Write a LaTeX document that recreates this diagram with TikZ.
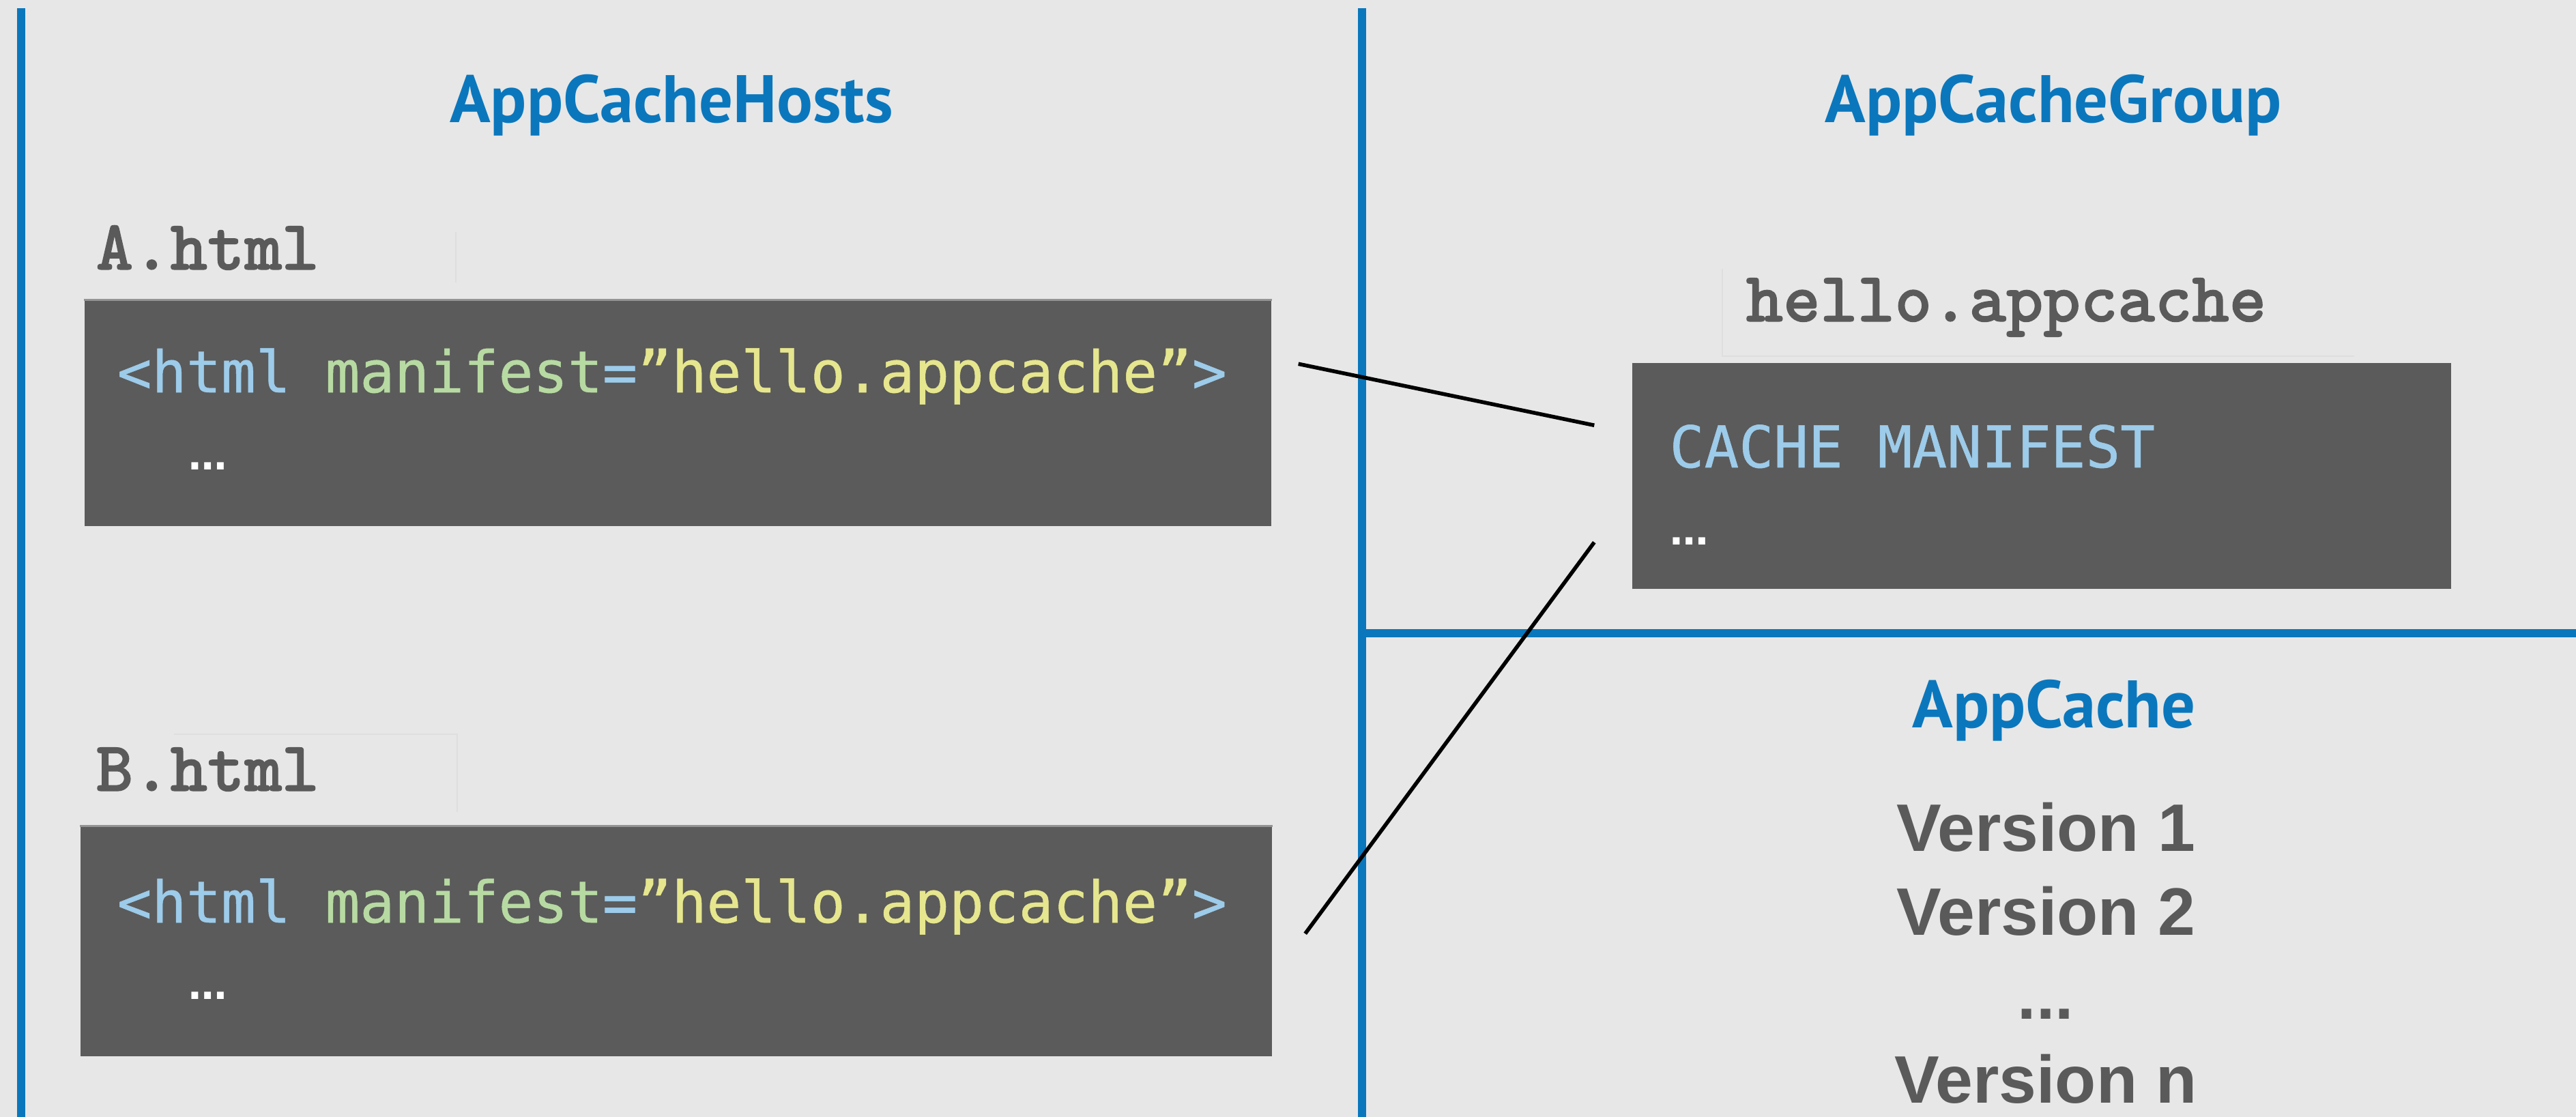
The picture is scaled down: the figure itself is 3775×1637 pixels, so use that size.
\documentclass[tikz,border=0pt]{standalone}
\usepackage{fontspec}
\setmainfont{Liberation Sans}
\newfontfamily\handfont{PT Sans}
\newfontfamily\codefont[FakeBold=0.6]{DejaVu Sans Mono}
\newfontfamily\dotfont{DejaVu Sans}
\newfontfamily\namefont[FakeBold=1.2]{lmmonolt10-bold.otf}
\usetikzlibrary{calc, fit}

\definecolor{pagegrey}{HTML}{E7E7E7}
\definecolor{chalkblue}{HTML}{0A77BD}
\definecolor{inkgrey}{HTML}{5A5A5A}
\definecolor{editorgrey}{HTML}{5B5B5B}
\definecolor{tagblue}{HTML}{9DCBEA}
\definecolor{attrgreen}{HTML}{B7DAA2}
\definecolor{stryellow}{HTML}{E6E68E}

\newcommand\manifestline{{\color{tagblue}<html} {\color{attrgreen}manifest}{\color{tagblue}=}{\color{stryellow}”hello.appcache”}{\color{tagblue}>}}

\begin{document}
\begin{tikzpicture}[x=0.01cm, y=-0.01cm,
    title/.style={font=\handfont\bfseries\fontsize{28}{28}\selectfont, text=chalkblue, anchor=base, inner sep=0},
    filename/.style={font=\namefont\fontsize{29.5}{29.5}\selectfont, text=inkgrey, anchor=base west, inner sep=0},
    codebox/.style={fill=editorgrey, inner sep=0},
    code/.style={font=\codefont\fontsize{24}{24}\selectfont, anchor=base west, inner sep=0},
    dots/.style={font=\dotfont\bfseries\fontsize{16}{16}\selectfont, text=white, inner sep=0},
    version/.style={font=\bfseries\fontsize{28}{28}\selectfont, text=inkgrey, anchor=base, inner sep=0},
    chalk/.style={draw=chalkblue, line width=3.5pt},
    link/.style={draw=black, line width=1.6pt},
    crop/.style={draw=black!13, line width=0.4pt}]
  \useasboundingbox (0,0) rectangle (3775,1637);
  \fill[pagegrey] (0,0) rectangle (3775,1637);

  % Column borders
  \draw[chalk] (31,12) -- (31,1637);
  \draw[chalk] (1996,12) -- (1996,1637);
  \draw[chalk] (1996,928) -- (3775,928);

  % Titles
  \node[title] (hosts) at (984,180) {AppCacheHosts};
  \node[title] (group) at (3009,180) {AppCacheGroup};
  \node[title] (cache) at (3010,1066) {AppCache};

  % A.html
  \draw[crop] (668,340) -- (668,414);
  \node[filename] (nameA) at (140,395) {A.html};
  \node[codebox, fit={(124,440) (1863,771)}] (hostA) {};
  \draw[black!42, line width=0.8pt] (hostA.north west) -- (hostA.north east);
  \node[code] (lineA) at (171,575) {\manifestline};
  \node[dots] (dotsA) at (305,683) {…};

  % B.html
  \draw[crop] (255,1076) -- (670,1076) -- (670,1190);
  \node[filename] (nameB) at (140,1159) {B.html};
  \node[codebox, fit={(118,1211) (1864,1548)}] (hostB) {};
  \draw[black!42, line width=0.8pt] (hostB.north west) -- (hostB.north east);
  \node[code] (lineB) at (171,1352) {\manifestline};
  \node[dots] (dotsB) at (305,1459) {…};

  % hello.appcache
  \draw[crop] (2524,394) -- (2524,522) -- (3450,522);
  \node[filename] (nameM) at (2558,471) {hello.appcache};
  \node[codebox, fit={(2392,532) (3592,863)}] (manifest) {};
  \node[code, text=tagblue] (head) at (2446,685) {CACHE MANIFEST};
  \node[dots] (dotsM) at (2476,793) {…};

  % Versions
  \node[version] (v1) at (2998,1247) {Version 1};
  \node[version] (v2) at (2998,1370) {Version 2};
  \node[version] (vdots) at (2998,1493) {...};
  \node[version] (vn) at (2998,1616) {Version n};

  % Links
  \coordinate (outA) at ($(hostA.north east)+(39,94)$);
  \coordinate (outB) at ($(hostB.north east)+(48,158)$);
  \coordinate (inA) at ($(manifest.north west)+(-55,92)$);
  \coordinate (inB) at ($(manifest.south west)+(-55,-69)$);
  \draw[link] (outA) -- (inA);
  \draw[link] (outB) -- (inB);
\end{tikzpicture}
\end{document}
